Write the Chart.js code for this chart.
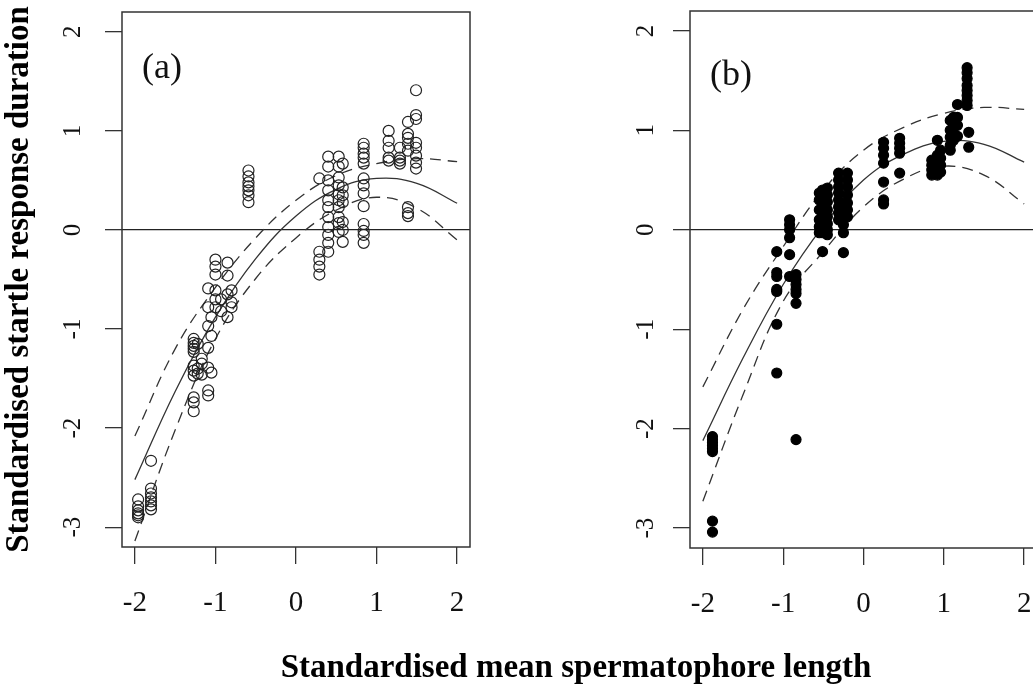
<!DOCTYPE html>
<html>
<head>
<meta charset="utf-8">
<title>Startle response vs spermatophore length</title>
<script src="https://cdn.jsdelivr.net/npm/chart.js@4.4.1/dist/chart.umd.min.js"></script>
<style>
    html, body { margin: 0; padding: 0; background: #fff; overflow: hidden; }
    #wrap { position: relative; width: 1033px; height: 689px; overflow: hidden; }
    canvas { position: absolute; top: 0; }
    #chartA { left: 0; }
    #chartB { left: 520px; }
    #xTitle {
        position: absolute; left: 0; top: 650px; width: 1152px;
        text-align: center; white-space: nowrap;
        font: bold 33px 'Liberation Serif', 'Times New Roman', serif;
        line-height: 32px; color: #000;
    }
</style>
</head>
<body>
<div id="wrap">
    <canvas id="chartA" width="500" height="689"></canvas>
    <canvas id="chartB" width="540" height="689"></canvas>
    <div id="xTitle">Standardised mean spermatophore length</div>
</div>
<script>
// axis ranges and ticks
const xMin = -2.16, xMax = 2.16;
const yMin = -3.2, yMax = 2.2;
const xTicks = [-2, -1, 0, 1, 2];
const yTicks = [-3, -2, -1, 0, 1, 2];

// panel (a): males at each spermatophore length (x) and their trials (y)
const aX = [-1.96, -1.80, -1.27, -1.22, -1.17, -1.09, -1.05, -1.00, -0.93, -0.85, -0.80,
            -0.59, 0.29, 0.40, 0.53, 0.58, 0.84, 1.15, 1.29, 1.39, 1.49];
const aY = [
    [-2.72, -2.79, -2.83, -2.86, -2.88, -2.90],
    [-2.33, -2.61, -2.66, -2.70, -2.74, -2.78, -2.82],
    [-1.10, -1.14, -1.17, -1.20, -1.23, -1.37, -1.42, -1.47, -1.69, -1.74, -1.83],
    [-1.15, -1.40, -1.45],
    [-1.30, -1.35, -1.46],
    [-0.59, -0.78, -0.97, -1.19, -1.39, -1.62, -1.67],
    [-0.88, -1.07, -1.44],
    [-0.30, -0.37, -0.45, -0.61, -0.70, -0.78],
    [-0.70, -0.82],
    [-0.33, -0.46, -0.65, -0.88],
    [-0.61, -0.73, -0.78],
    [0.60, 0.54, 0.48, 0.44, 0.40, 0.35, 0.28],
    [0.52, -0.22, -0.30, -0.37, -0.45],
    [0.74, 0.64, 0.50, 0.40, 0.30, 0.23, 0.13, 0.03, -0.05, -0.13, -0.22],
    [0.74, 0.64, 0.53, 0.45, 0.36, 0.30, 0.23, 0.13, 0.07, -0.02],
    [0.67, 0.43, 0.35, 0.28, 0.08, 0.00, -0.12],
    [0.87, 0.83, 0.77, 0.73, 0.67, 0.52, 0.45, 0.37, 0.24, 0.06, -0.01, -0.05, -0.13],
    [1.00, 0.90, 0.83, 0.73, 0.70],
    [0.83, 0.73, 0.70, 0.67],
    [1.09, 0.97, 0.93, 0.87, 0.80, 0.23, 0.17, 0.14],
    [1.41, 1.16, 1.12, 0.88, 0.83, 0.75, 0.68, 0.62]
];

// panel (b)
const bX = [-1.88, -1.08, -0.92, -0.84, -0.55, -0.51, -0.45, -0.31, -0.25, -0.20,
            0.25, 0.45, 0.85, 0.92, 0.96, 1.08, 1.12, 1.17, 1.29, 1.31];
const bY = [
    [-2.08, -2.11, -2.14, -2.17, -2.20, -2.23, -2.93, -3.04],
    [-0.22, -0.43, -0.47, -0.60, -0.62, -0.95, -1.44],
    [0.10, 0.05, 0.00, -0.08, -0.25, -0.47],
    [-0.45, -0.50, -0.55, -0.60, -0.64, -0.74, -2.11],
    [0.37, 0.30, 0.20, 0.10, 0.03, -0.03],
    [0.40, 0.33, 0.25, 0.17, 0.10, 0.03, -0.03, -0.22],
    [0.42, 0.35, 0.28, 0.20, 0.13, 0.06, 0.00, -0.05],
    [0.57, 0.50, 0.43, 0.37, 0.30, 0.23, 0.17, 0.10],
    [0.05, -0.03, -0.23],
    [0.57, 0.50, 0.43, 0.35, 0.27, 0.20, 0.13],
    [0.88, 0.82, 0.75, 0.67, 0.48, 0.30, 0.26],
    [0.92, 0.87, 0.82, 0.77, 0.57],
    [0.70, 0.65, 0.60, 0.55],
    [0.90, 0.75, 0.68, 0.60, 0.55],
    [0.80, 0.72, 0.65, 0.58],
    [1.10, 1.00, 0.93, 0.85, 0.80],
    [1.13, 1.05, 0.97, 0.90],
    [1.26, 1.13, 1.05, 0.94],
    [1.63, 1.58, 1.52, 1.45, 1.40, 1.35, 1.30, 1.25],
    [0.98, 0.83]
];

// fitted curves with confidence band
const fitX = [-2, -1.5, -1, -0.5, 0, 0.5, 1, 1.5, 2];
const aFit   = [-2.52, -1.63, -0.88, -0.29, 0.14, 0.41, 0.52, 0.47, 0.27];
const aUpper = [-2.08, -1.20, -0.58, -0.08, 0.30, 0.55, 0.67, 0.72, 0.69];
const aLower = [-3.14, -2.02, -1.10, -0.49, -0.08, 0.20, 0.33, 0.22, -0.10];
const bFit   = [-2.12, -1.29, -0.55, 0.04, 0.50, 0.76, 0.89, 0.86, 0.68];
const bUpper = [-1.58, -0.80, -0.17, 0.40, 0.80, 1.03, 1.17, 1.23, 1.21];
const bLower = [-2.73, -1.66, -0.72, -0.22, 0.23, 0.51, 0.64, 0.55, 0.26];

const serif = "'Liberation Serif', 'Times New Roman', serif";

function toPoints(cols, rows) {
    const pts = [];
    cols.forEach((x, i) => rows[i].forEach(y => pts.push({ x: x, y: y })));
    return pts;
}

function toLine(xs, ys) {
    return xs.map((x, i) => ({ x: x, y: ys[i] }));
}

// box round the plot region, like R's box()
const frameBox = {
    id: 'frameBox',
    afterDatasetsDraw(chart) {
        const { ctx, chartArea: a } = chart;
        ctx.save();
        ctx.strokeStyle = '#333';
        ctx.lineWidth = 1.5;
        ctx.strokeRect(a.left, a.top, a.right - a.left, a.bottom - a.top);
        ctx.restore();
    }
};

// "(a)" / "(b)" tag in the top left corner
const panelTag = {
    id: 'panelTag',
    afterDraw(chart, args, opts) {
        const { ctx, chartArea } = chart;
        ctx.save();
        ctx.font = '36px ' + serif;
        ctx.fillStyle = '#111';
        ctx.textBaseline = 'alphabetic';
        ctx.fillText(opts.text, chartArea.left + opts.dx, chartArea.top + opts.dy);
        ctx.restore();
    }
};

function curve(ys, dashed) {
    return {
        data: toLine(fitX, ys),
        showLine: true,
        pointRadius: 0,
        borderColor: '#333',
        borderWidth: 1.3,
        borderDash: dashed ? [11, 7] : [],
        tension: 0.4
    };
}

function buildPanel(id, cfg) {
    return new Chart(document.getElementById(id), {
        type: 'scatter',
        data: {
            datasets: [
                {
                    data: cfg.points,
                    pointRadius: cfg.radius,
                    pointBackgroundColor: cfg.fill,
                    pointBorderColor: cfg.stroke,
                    pointBorderWidth: 1.2
                },
                curve(cfg.fit, false),
                curve(cfg.upper, true),
                curve(cfg.lower, true)
            ]
        },
        options: {
            responsive: false,
            animation: false,
            events: [],
            layout: { padding: cfg.padding },
            plugins: {
                legend: { display: false },
                tooltip: { enabled: false },
                panelTag: { text: cfg.tag, dx: 20, dy: cfg.tagY }
            },
            scales: {
                x: {
                    type: 'linear',
                    min: xMin,
                    max: xMax,
                    afterBuildTicks: s => { s.ticks = xTicks.map(v => ({ value: v })); },
                    afterFit: s => { s.height = cfg.xAxisHeight; s.paddingLeft = 0; s.paddingRight = 0; },
                    border: { display: false },
                    grid: { drawOnChartArea: false, tickLength: 17, color: '#333', lineWidth: 1.3 },
                    ticks: {
                        autoSkip: false, maxRotation: 0, padding: 22, color: '#111',
                        font: { family: serif, size: 29 },
                        callback: v => String(v)
                    }
                },
                y: {
                    type: 'linear',
                    min: yMin,
                    max: yMax,
                    afterBuildTicks: s => { s.ticks = yTicks.map(v => ({ value: v })); },
                    afterFit: s => { s.width = cfg.yAxisWidth; s.paddingTop = 0; s.paddingBottom = 0; },
                    border: { display: false },
                    grid: {
                        color: c => (c.tick && c.tick.value === 0) ? '#222' : 'rgba(0,0,0,0)',
                        tickColor: '#333', lineWidth: 1.3, tickWidth: 1.3, tickLength: 17
                    },
                    ticks: {
                        minRotation: 90, maxRotation: 90, crossAlign: 'center',
                        padding: cfg.yPad, color: '#111',
                        font: { family: serif, size: 25 },
                        callback: v => String(v)
                    },
                    title: {
                        display: !!cfg.yTitle,
                        text: cfg.yTitle || '',
                        color: '#000',
                        font: { family: serif, size: 33, weight: 'bold' },
                        padding: { top: 0, bottom: 0 }
                    }
                }
            }
        },
        plugins: [frameBox, panelTag]
    });
}

buildPanel('chartA', {
    points: toPoints(aX, aY), radius: 5.5, fill: 'rgba(0,0,0,0)', stroke: '#222',
    fit: aFit, upper: aUpper, lower: aLower,
    padding: { top: 12, right: 30, left: 0, bottom: 0 },
    xAxisHeight: 142, yAxisWidth: 122, yPad: 21,
    tag: '(a)', tagY: 66,
    yTitle: 'Standardised startle response duration'
});

buildPanel('chartB', {
    points: toPoints(bX, bY), radius: 5, fill: '#000', stroke: '#000',
    fit: bFit, upper: bUpper, lower: bLower,
    padding: { top: 11, right: 23, left: 0, bottom: 0 },
    xAxisHeight: 141, yAxisWidth: 170, yPad: 16,
    tag: '(b)', tagY: 74,
    yTitle: null
});
</script>
</body>
</html>
